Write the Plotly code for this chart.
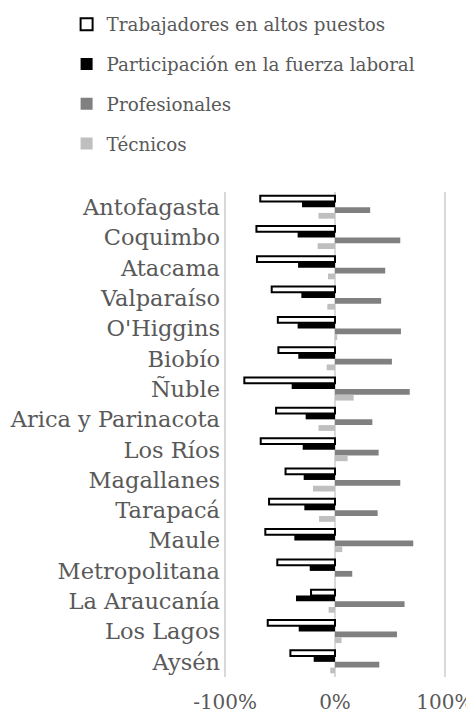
import plotly.graph_objects as go

regions = ["Antofagasta", "Coquimbo", "Atacama", "Valparaíso", "O'Higgins", "Biobío", "Ñuble",
           "Arica y Parinacota", "Los Ríos", "Magallanes", "Tarapacá", "Maule", "Metropolitana",
           "La Araucanía", "Los Lagos", "Aysén"]
trabajadores = [-0.68, -0.715, -0.71, -0.576, -0.52, -0.515, -0.825, -0.536, -0.676, -0.45,
                -0.60, -0.634, -0.525, -0.218, -0.612, -0.406]
participacion = [-0.30, -0.34, -0.336, -0.306, -0.34, -0.334, -0.394, -0.267, -0.294, -0.285,
                 -0.279, -0.37, -0.23, -0.355, -0.33, -0.194]
profesionales = [0.32, 0.594, 0.457, 0.42, 0.60, 0.518, 0.68, 0.34, 0.397, 0.594,
                 0.388, 0.712, 0.157, 0.633, 0.564, 0.403]
tecnicos = [-0.15, -0.158, -0.064, -0.07, 0.02, -0.076, 0.17, -0.15, 0.115, -0.20,
            -0.145, 0.066, 0.0, -0.058, 0.06, -0.043]
x_tickvals = [-1, 0, 1]
x_ticktext = ["-100%", "0%", "100%"]

FONT = "DejaVu Serif"
TXT = "#595959"

fig = go.Figure()
series = [
    ("Trabajadores en altos puestos", trabajadores, "white", dict(color="black", width=2)),
    ("Participación en la fuerza laboral", participacion, "black", dict(width=0)),
    ("Profesionales", profesionales, "#808080", dict(width=0)),
    ("Técnicos", tecnicos, "#bfbfbf", dict(width=0)),
]
for i, (name, vals, col, line) in enumerate(series):
    fig.add_trace(go.Bar(
        y=regions, x=vals, name=name, orientation="h",
        marker=dict(color=col, line=line), legendgroup=f"g{i}",
    ))

fig.update_layout(
    width=466, height=707,
    paper_bgcolor="white", plot_bgcolor="white",
    margin=dict(l=215.6, r=28.2, t=184, b=38, autoexpand=False),
    barmode="group", bargap=0.24, bargroupgap=0,
    font=dict(family=FONT, size=18, color=TXT),
    showlegend=True,
    legend=dict(
        x=-0.709, y=1.384, xanchor="left", yanchor="top",
        font=dict(family=FONT, size=18.3, color=TXT),
        tracegroupgap=13, traceorder="grouped",
        itemwidth=30,
    ),
    xaxis=dict(
        range=[-1.01, 1.01], tickvals=x_tickvals, ticktext=x_ticktext,
        showgrid=True, gridcolor="#d9d9d9", gridwidth=1.5,
        zeroline=True, zerolinecolor="#d9d9d9", zerolinewidth=1.5,
        showline=False, ticks="", tickfont=dict(size=20, color=TXT),
        ticklabelstandoff=11, automargin=False,
    ),
    yaxis=dict(
        autorange="reversed", showgrid=False, showline=False, ticks="",
        tickfont=dict(size=22.5, color=TXT), ticklabelstandoff=3, automargin=False,
    ),
)
fig.write_html("out.html")
